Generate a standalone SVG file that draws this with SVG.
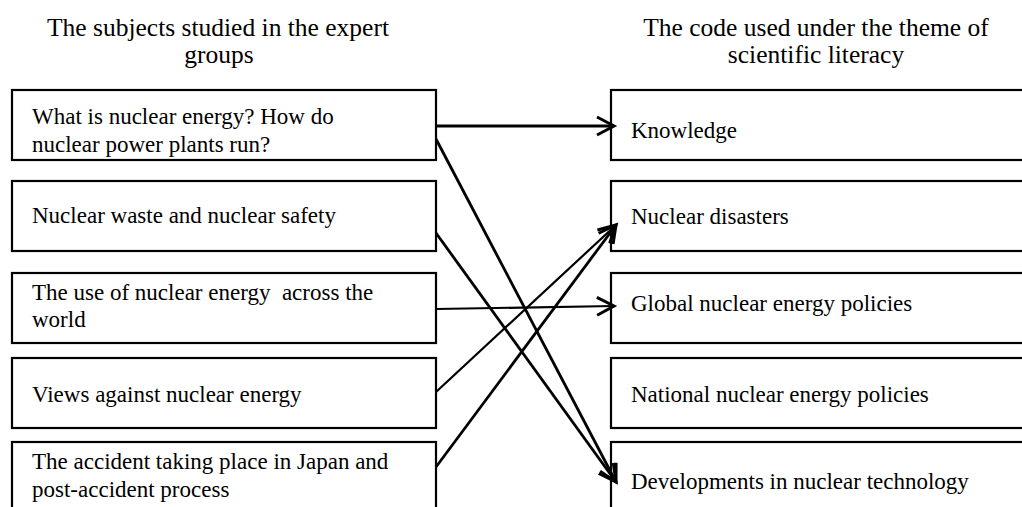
<svg xmlns="http://www.w3.org/2000/svg" width="1022" height="507" viewBox="0 0 1022 507">
<style>
  .box { fill: #fff; stroke: #000; stroke-width: 2.2; }
  .t { font-family: "Liberation Serif", "Times New Roman", serif; font-size: 23px; fill: #000; }
  .title { font-family: "Liberation Serif", "Times New Roman", serif; font-size: 25.5px; fill: #000; text-anchor: middle; }
  .c { fill: none; stroke: #000; stroke-width: 2.8; marker-end: url(#arr); }
  .thin { stroke-width: 2.2; }
</style>
<defs>
  <marker id="arr" markerUnits="userSpaceOnUse" markerWidth="24" markerHeight="24" viewBox="-20 -12 24 24" refX="0" refY="0" orient="auto">
    <path d="M-17,-9 L0,0 L-17,9" fill="none" stroke="#000" stroke-width="3"/>
  </marker>
</defs>
<rect width="1022" height="507" fill="#fff"/>

<g id="title-left">
  <text class="title" x="218" y="36">The subjects studied in the expert</text>
  <text class="title" x="219" y="63">groups</text>
</g>
<g id="title-right">
  <text class="title" x="816" y="36">The code used under the theme of</text>
  <text class="title" x="816" y="63">scientific literacy</text>
</g>

<g id="s1">
  <rect class="box" x="12" y="90" width="424" height="70"/>
  <text class="t" x="32" y="124">What is nuclear energy? How do</text>
  <text class="t" x="32" y="152">nuclear power plants run?</text>
</g>
<g id="s2">
  <rect class="box" x="12" y="181" width="424" height="70"/>
  <text class="t" x="32" y="223">Nuclear waste and nuclear safety</text>
</g>
<g id="s3">
  <rect class="box" x="12" y="273" width="424" height="70"/>
  <text class="t" x="32" y="300" xml:space="preserve">The use of nuclear energy  across the</text>
  <text class="t" x="32" y="327">world</text>
</g>
<g id="s4">
  <rect class="box" x="12" y="358" width="424" height="70"/>
  <text class="t" x="32" y="402">Views against nuclear energy</text>
</g>
<g id="s5">
  <rect class="box" x="12" y="442" width="424" height="72"/>
  <text class="t" x="32" y="469">The accident taking place in Japan and</text>
  <text class="t" x="32" y="497">post-accident process</text>
</g>

<g id="c1">
  <rect class="box" x="611" y="90" width="420" height="70"/>
  <text class="t" x="631" y="138">Knowledge</text>
</g>
<g id="c2">
  <rect class="box" x="611" y="181" width="420" height="70"/>
  <text class="t" x="631" y="224">Nuclear disasters</text>
</g>
<g id="c3">
  <rect class="box" x="611" y="273" width="420" height="70"/>
  <text class="t" x="631" y="311">Global nuclear energy policies</text>
</g>
<g id="c4">
  <rect class="box" x="611" y="358" width="420" height="70"/>
  <text class="t" x="631" y="402">National nuclear energy policies</text>
</g>
<g id="c5">
  <rect class="box" x="611" y="442" width="420" height="72"/>
  <text class="t" x="631" y="489">Developments in nuclear technology</text>
</g>

<g id="connectors">
  <line class="c" x1="436" y1="126" x2="614" y2="126"/>
  <line class="c" x1="436" y1="139" x2="616" y2="482"/>
  <line class="c" x1="436" y1="233" x2="616" y2="482"/>
  <line class="c thin" x1="436" y1="309" x2="614" y2="306"/>
  <line class="c thin" x1="436" y1="392" x2="616" y2="225"/>
  <line class="c" x1="436" y1="467" x2="616" y2="225"/>
</g>
</svg>
